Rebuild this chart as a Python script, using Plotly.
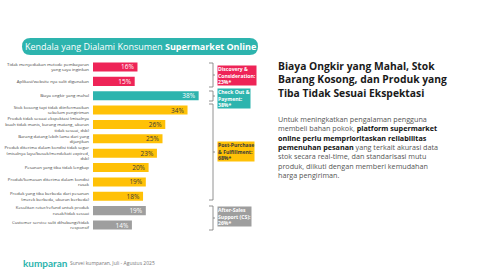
import plotly.graph_objects as go

W, H = 480, 270

categories = [
    "Tidak menyediakan metode pembayaran<br>yang saya inginkan",
    "Aplikasi/website nya sulit digunakan",
    "Biaya ongkir yang mahal",
    "Stok kosong tapi tidak diinformasikan<br>sebelum pengiriman",
    "Produk tidak sesuai ekspektasi (misalnya<br>buah tidak manis, kurang matang, ukuran<br>tidak sesuai, dsb)",
    "Barang datang lebih lama dari yang<br>dijanjikan",
    "Produk diterima dalam kondisi tidak segar<br>(misalnya layu/busuk/mendekati expired,<br>dsb)",
    "Pesanan yang tiba tidak lengkap",
    "Produk/kemasan diterima dalam kondisi<br>rusak",
    "Produk yang tiba berbeda dari pesanan<br>(merek berbeda, ukuran berbeda)",
    "Kesulitan retur/refund untuk produk<br>rusak/tidak sesuai",
    "Customer service sulit dihubungi/tidak<br>responsif",
]
values = [16, 15, 38, 34, 26, 25, 23, 20, 19, 18, 19, 14]
groups = ["disc", "disc", "pay", "post", "post", "post", "post", "post", "post", "post", "cs", "cs"]

group_colors = {"disc": "#EE2457", "pay": "#2DB4AE", "post": "#FFC107", "cs": "#9E9E9E"}
group_text = {"disc": "white", "pay": "white", "post": "#3A3A3A", "cs": "white"}

# (group, label, bracket top, bracket bottom, label centre)
group_labels = [
    ("disc", "Discovery &<br>Consideration:<br>23%*", 63, 87, 75.5),
    ("pay", "Check Out &<br>Payment:<br>38%*", 91, 101, 98.5),
    ("post", "Post-Purchase<br>& Fulfillment:<br>68%*", 104, 200, 151),
    ("cs", "After-Sales<br>Support (CS):<br>26%*", 206, 230, 216),
]

title_text = "Kendala yang Dialami Konsumen <b>Supermarket Online</b>"
heading = "Biaya Ongkir yang Mahal, Stok<br>Barang Kosong, dan Produk yang<br>Tiba Tidak Sesuai Ekspektasi"
body_lines = [
    "Untuk meningkatkan pengalaman pengguna",
    "membeli bahan pokok, <b style='color:#111'>platform supermarket</b>",
    "<b style='color:#111'>online perlu memprioritaskan reliabilitas</b>",
    "<b style='color:#111'>pemenuhan pesanan</b> yang terkait akurasi data",
    "stok secara real-time, dan standarisasi mutu",
    "produk, diikuti dengan memberi kemudahan",
    "harga pengiriman.",
]
source = "Survei kumparan, Juli - Agustus 2025"


def px(x):
    return x / W


def py(y):
    return 1 - y / H


fig = go.Figure()
fig.add_trace(go.Bar(
    x=values, y=categories, orientation="h",
    marker=dict(color=[group_colors[g] for g in groups], line=dict(width=0)),
    text=[f"{v}%" for v in values],
    textposition="inside", insidetextanchor="end",
    textfont=dict(family="Open Sans", size=6.5, color=[group_text[g] for g in groups]),
    constraintext="none",
    hoverinfo="skip",
))

x0, x1 = 93, 93 + 2.78 * 40
top, bot = 59.8, 232.2
fig.update_xaxes(domain=[px(x0), px(x1)], range=[0, 40], visible=False)
fig.update_yaxes(domain=[py(bot), py(top)], range=[11.5, -0.5],
                 categoryorder="array", categoryarray=categories,
                 showgrid=False, zeroline=False, showline=False, ticks="",
                 ticklabelstandoff=3,
                 tickfont=dict(family="Open Sans", size=4.3, color="#444"))

shapes = []
# title pill
l, r, t, b, rad = 22, 258, 38, 55, 8.5
path = (f"M {px(l+rad)},{py(t)} L {px(r-rad)},{py(t)} Q {px(r)},{py(t)} {px(r)},{py(t+rad)} "
        f"L {px(r)},{py(b-rad)} Q {px(r)},{py(b)} {px(r-rad)},{py(b)} L {px(l+rad)},{py(b)} "
        f"Q {px(l)},{py(b)} {px(l)},{py(b-rad)} L {px(l)},{py(t+rad)} Q {px(l)},{py(t)} {px(l+rad)},{py(t)} Z")
shapes.append(dict(type="path", xref="paper", yref="paper", path=path,
                   fillcolor="#2DB4AE", line=dict(width=0), layer="below"))

annotations = [dict(xref="paper", yref="paper", x=px(140), y=py(46.5), text=title_text,
                    showarrow=False, xanchor="center", yanchor="middle",
                    font=dict(family="Open Sans", size=9, color="white"))]

# brackets and group labels
for g, txt, yt, yb, yc in group_labels:
    bx0, bx1 = 209, 213
    ym = (yt + yb) / 2
    bpath = (f"M {px(bx0)},{py(yt)} L {px(bx1)},{py(yt)} L {px(bx1)},{py(yb)} L {px(bx0)},{py(yb)} "
             f"M {px(bx1)},{py(ym)} L {px(bx1+2)},{py(ym)}")
    shapes.append(dict(type="path", xref="paper", yref="paper", path=bpath,
                       line=dict(color="#777", width=0.8)))
    annotations.append(dict(xref="paper", yref="paper", x=px(217), y=py(yc), text=f"<b>{txt}</b>",
                            showarrow=False, xanchor="left", yanchor="middle", align="left",
                            bgcolor=group_colors[g], borderpad=0,
                            font=dict(family="Open Sans", size=5.1, color=group_text[g])))

annotations.append(dict(xref="paper", yref="paper", x=px(276), y=py(57), text=f"<b>{heading}</b>",
                        showarrow=False, xanchor="left", yanchor="top", align="left",
                        font=dict(family="Open Sans", size=10.3, color="#1A1A1A")))
annotations.append(dict(xref="paper", yref="paper", x=px(276), y=py(112), text="<br>".join(body_lines),
                        showarrow=False, xanchor="left", yanchor="top", align="left",
                        font=dict(family="Open Sans", size=7.2, color="#555")))

annotations.append(dict(xref="paper", yref="paper", x=px(21), y=py(263), text="<b>kumparan</b>",
                        showarrow=False, xanchor="left", yanchor="middle",
                        font=dict(family="Lato", size=10, color="#2DB4AE")))
annotations.append(dict(xref="paper", yref="paper", x=px(68), y=py(263), text=source,
                        showarrow=False, xanchor="left", yanchor="middle",
                        font=dict(family="Open Sans", size=5, color="#777")))

fig.update_layout(width=W, height=H, margin=dict(l=0, r=0, t=0, b=0),
                  paper_bgcolor="white", plot_bgcolor="rgba(0,0,0,0)",
                  bargap=0.37, showlegend=False, shapes=shapes, annotations=annotations)

fig.write_html("out.html")
